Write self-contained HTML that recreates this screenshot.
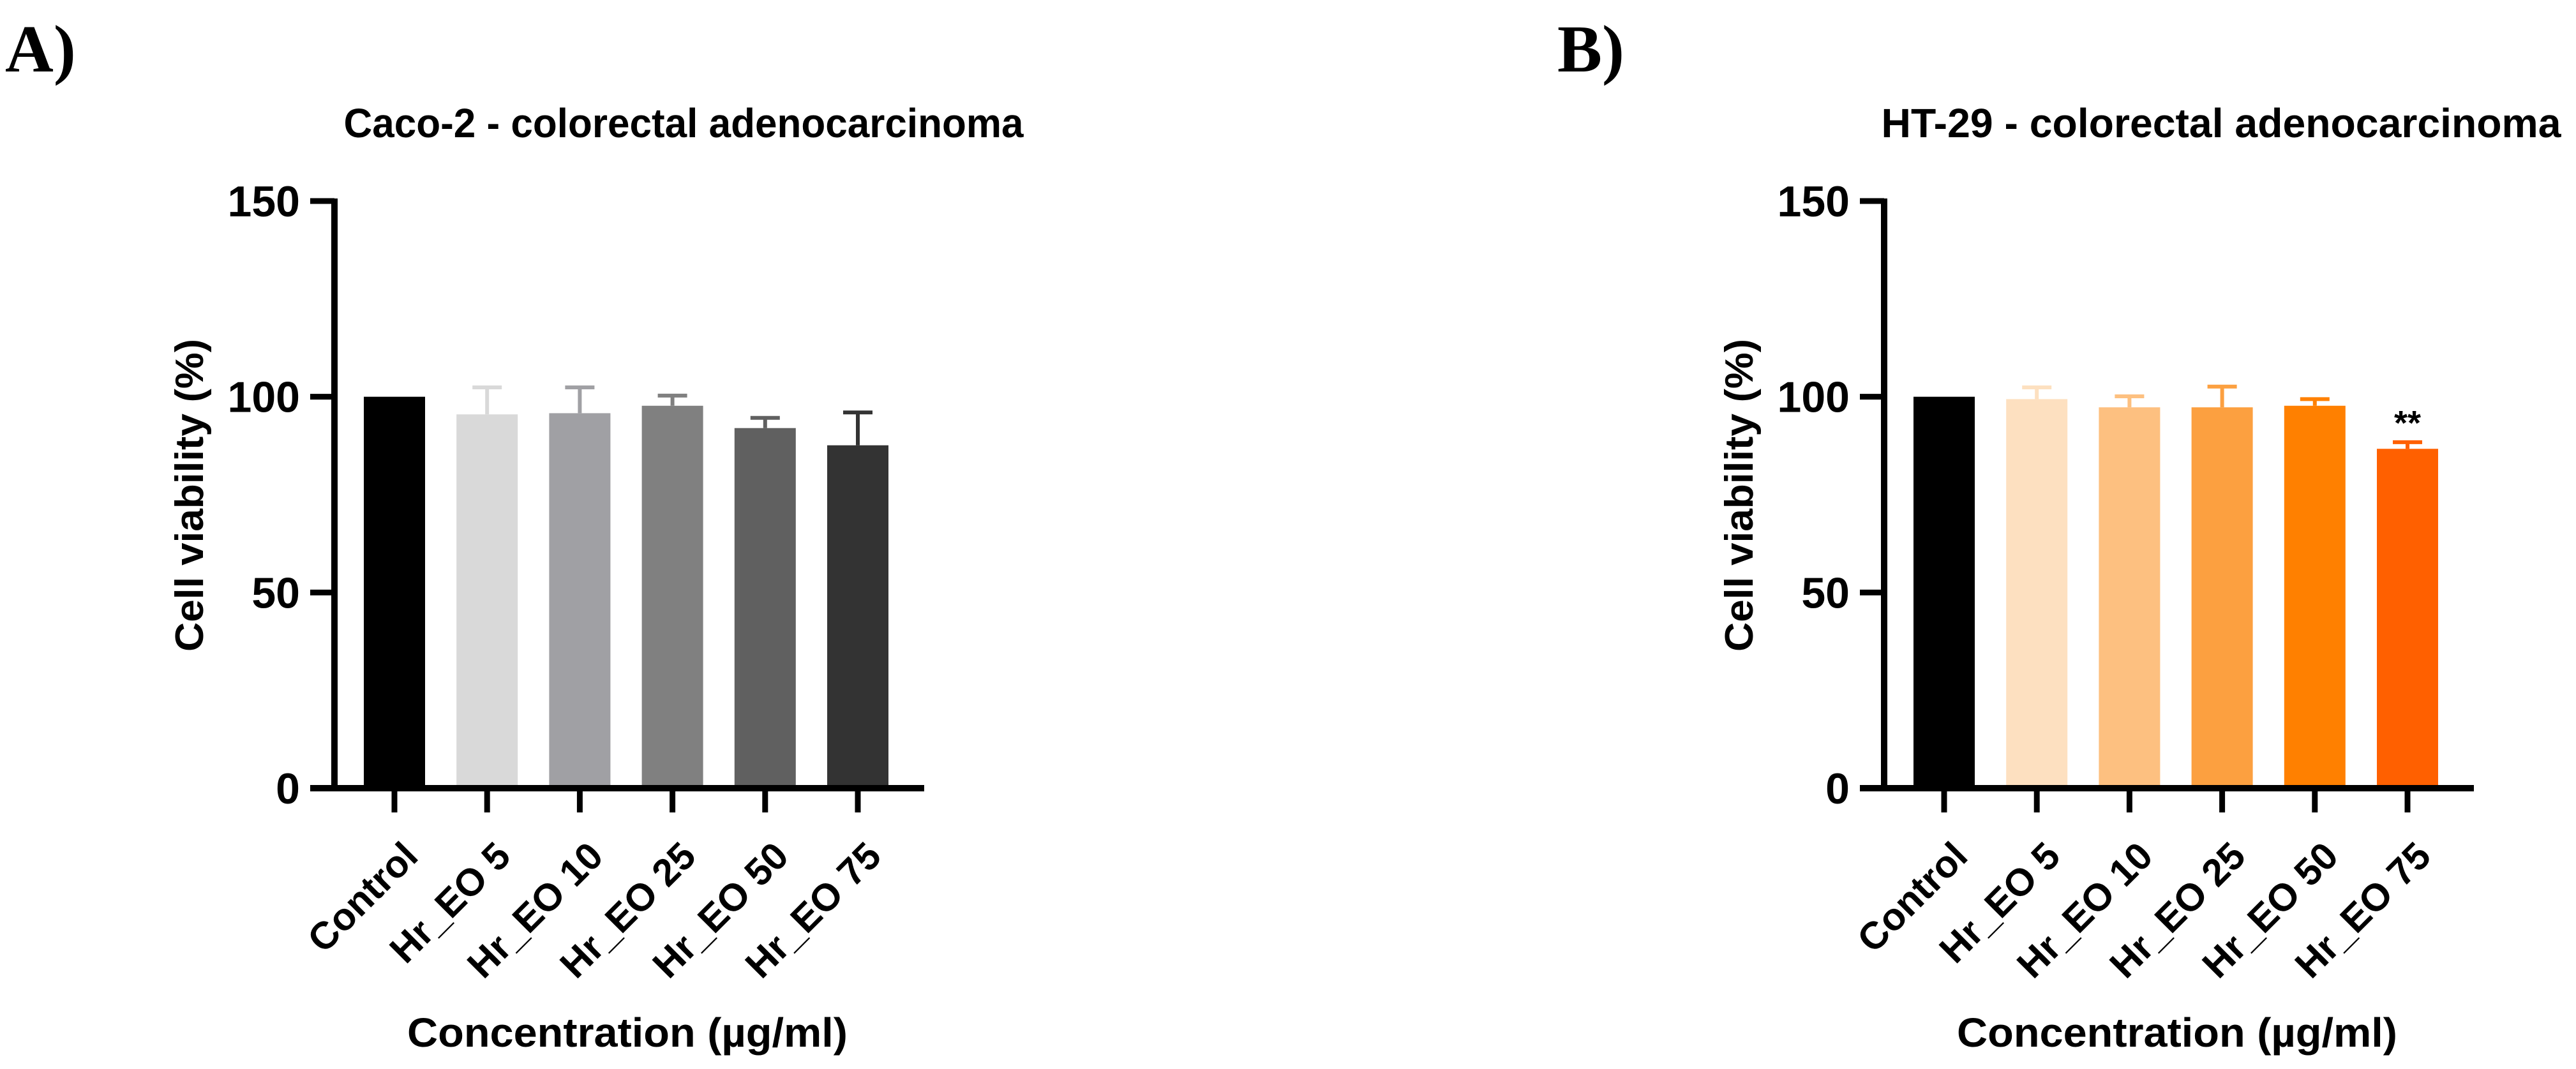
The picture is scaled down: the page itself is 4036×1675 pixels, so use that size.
<!DOCTYPE html>
<html><head><meta charset="utf-8"><style>
html,body{margin:0;padding:0;background:#fff;}
svg{display:block;}
text{font-family:"Liberation Sans",Arial,sans-serif;font-weight:bold;fill:#000;}
</style></head><body>
<svg id="fig" width="4036" height="1675" viewBox="0 0 4036 1675" xmlns="http://www.w3.org/2000/svg">
<text x="8" y="112" style="font-family:'Liberation Serif',serif;font-size:105px">A)</text>
<text x="2440" y="112" style="font-family:'Liberation Serif',serif;font-size:105px">B)</text>
<g id="panelA"></g>
<g id="panelB"></g>
</svg>
<script>
const categories = ["Control","Hr_EO 5","Hr_EO 10","Hr_EO 25","Hr_EO 50","Hr_EO 75"];
const valuesA = [100, 95.5, 95.8, 97.7, 92.0, 87.6];
const errorsA = [0, 6.9, 6.6, 2.6, 2.6, 8.4];
const valuesB = [100, 99.4, 97.3, 97.3, 97.7, 86.7];
const errorsB = [0, 3.0, 2.8, 5.3, 1.7, 1.7];
const signifB = ["", "", "", "", "", "**"];
const yTicks = [0, 50, 100, 150];
const colorsA = ["#000000","#d9d9d9","#a0a0a4","#808080","#606060","#333333"];
const colorsB = ["#000000","#fde0c0","#fdc080","#fca040","#ff8000","#ff6000"];
const titleA = "Caco-2 - colorectal adenocarcinoma";
const titleB = "HT-29 - colorectal adenocarcinoma";

const NS = "http://www.w3.org/2000/svg";
function mk(parent, tag, attrs, txt){
  const e = document.createElementNS(NS, tag);
  for (const k in attrs) e.setAttribute(k, attrs[k]);
  if (txt !== undefined) e.textContent = txt;
  parent.appendChild(e);
  return e;
}
const Y0 = 1235, Y150 = 315;
function yScale(v){ return Y0 - (v/150)*(Y0 - Y150); }

function drawPanel(g, ox, values, errors, colors, title, marks, titleCx){
  const axisX = ox + 524, firstX = ox + 618, step = 145.2, barW = 96, axisEnd = ox + 1448;
  const xScale = i => firstX + i*step;
  const t = mk(g, "text", {x: titleCx, y: 215, "text-anchor":"middle", "font-size":64, textLength:1065, lengthAdjust:"spacingAndGlyphs"}, title);
  
  
  values.forEach((v, i) => {
    const cx = xScale(i);
    const b = mk(g, "rect", {x: cx - barW/2, y: yScale(v), width: barW, height: Y0 - yScale(v), fill: colors[i]});
    
    
    if (errors[i] > 0) {
      const top = yScale(v + errors[i]);
      const el = mk(g, "path", {d: `M${cx} ${yScale(v)} V${top} M${cx-23} ${top} H${cx+23}`, stroke: colors[i], "stroke-width": 6, fill: "none"});
      
      
    }
    if (marks && marks[i]) {
      const s = mk(g, "text", {x: cx, y: yScale(v + errors[i]) - 12, "text-anchor":"middle", "font-size":54, "font-weight":"normal"}, marks[i]);
      
      
    }
    const tk = mk(g, "line", {x1: cx, x2: cx, y1: Y0, y2: Y0 + 38, stroke: "#000", "stroke-width": 9});
    
    
    const lx = cx + 40, ly = 1345;
    const lb = mk(g, "text", {x: lx, y: ly, "text-anchor":"end", "font-size":60, transform:`rotate(-45 ${lx} ${ly})`}, categories[i]);
    
    
  });
  const ya = mk(g, "line", {x1: axisX, x2: axisX, y1: Y150 - 4, y2: Y0 + 4, stroke: "#000", "stroke-width": 10});
  
  
  const xa = mk(g, "line", {x1: axisX - 38, x2: axisEnd, y1: Y0, y2: Y0, stroke: "#000", "stroke-width": 10});
  
  
  yTicks.forEach(v => {
    const y = yScale(v);
    const tl = mk(g, "line", {x1: axisX - 38, x2: axisX, y1: y, y2: y, stroke: "#000", "stroke-width": 9});
    
    
    const tx = mk(g, "text", {x: axisX - 54, y: y + 24, "text-anchor":"end", "font-size":68}, String(v));
    
    
  });
  const ytx = ox + 318, yty = 776;
  const yt = mk(g, "text", {x: ytx, y: yty, "text-anchor":"middle", "font-size":62, transform:`rotate(-90 ${ytx} ${yty})`, textLength:490, lengthAdjust:"spacingAndGlyphs"}, "Cell viability (%)");
  
  
  const xt = mk(g, "text", {x: ox + 983, y: 1640, "text-anchor":"middle", "font-size":64, textLength:690, lengthAdjust:"spacingAndGlyphs"}, "Concentration (µg/ml)");
  
  
}
drawPanel(document.getElementById("panelA"), 0, valuesA, errorsA, colorsA, titleA, null, 1071);
drawPanel(document.getElementById("panelB"), 2428, valuesB, errorsB, colorsB, titleB, signifB, 3480);
</script>
</body></html>
